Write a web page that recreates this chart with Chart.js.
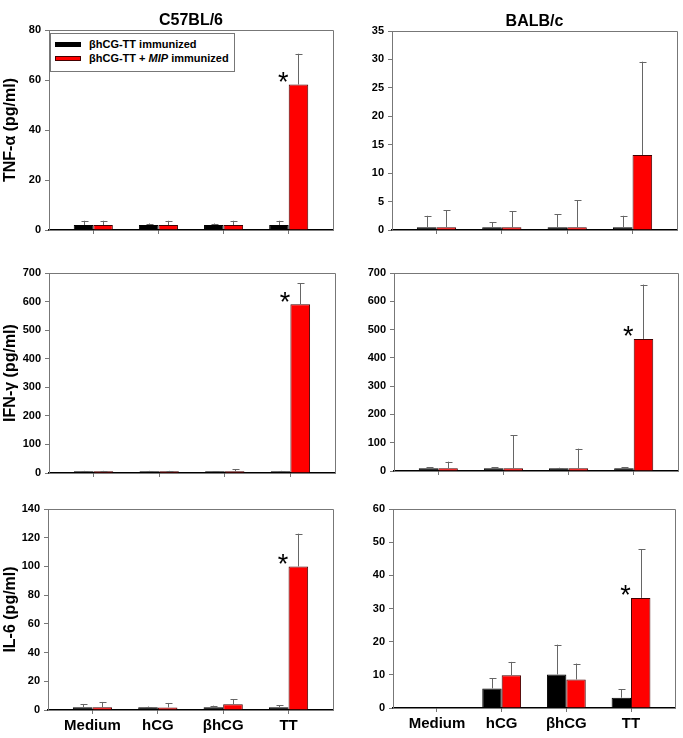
<!DOCTYPE html>
<html><head><meta charset="utf-8">
<script src="https://cdn.jsdelivr.net/npm/chart.js@4"></script>
<style>
html,body{margin:0;padding:0;background:#fff}
body{width:683px;height:738px;position:relative;overflow:hidden;font-family:'Liberation Sans',Arial,sans-serif}
canvas.cv{position:absolute}
#legend{position:absolute;left:50px;top:33px;width:185px;height:39px;border:1px solid #777;box-sizing:border-box;background:#fff;font:bold 11px 'Liberation Sans',Arial,sans-serif;color:#000;z-index:5}
#legend .row{position:absolute;left:0;height:14px;line-height:14px;white-space:nowrap}
#legend .sw{position:absolute;left:4px;top:4.5px;width:26px;height:5px;box-sizing:border-box}
#legend .tx{position:absolute;left:38px;top:0}
</style>
</head><body>
<div id="legend"></div>
<script>
const FONT = "'Liberation Sans', Arial, sans-serif";

// ---- data ----
const categories = ['Medium', 'hCG', 'βhCG', 'TT'];
const seriesNames = ['βhCG-TT immunized', 'βhCG-TT + MIP immunized'];

// TNF-α, C57BL/6
const tnfC57Black    = [2, 2, 2, 2];
const tnfC57BlackErr = [1.7, 0.6, 0.6, 1.7];
const tnfC57Red      = [2, 2, 2, 58.2];
const tnfC57RedErr   = [1.7, 1.7, 1.7, 12.3];
const tnfC57Star     = [false, false, false, true];
// TNF-α, BALB/c
const tnfBalbBlack    = [0.5, 0.5, 0.5, 0.5];
const tnfBalbBlackErr = [2.0, 0.9, 2.3, 2.0];
const tnfBalbRed      = [0.5, 0.5, 0.5, 13.2];
const tnfBalbRedErr   = [3.0, 2.8, 4.7, 16.4];
const tnfBalbStar     = [false, false, false, false];
// IFN-γ, C57BL/6
const ifnC57Black    = [6, 6, 6, 6];
const ifnC57BlackErr = [1.5, 1.5, 1, 1.5];
const ifnC57Red      = [6, 6, 6, 591];
const ifnC57RedErr   = [1.5, 1.5, 8, 74];
const ifnC57Star     = [false, false, false, true];
// IFN-γ, BALB/c
const ifnBalbBlack    = [10, 10, 10, 10];
const ifnBalbBlackErr = [3, 3, 1.5, 3];
const ifnBalbRed      = [10, 10, 10, 467];
const ifnBalbRedErr   = [23, 117, 69, 192];
const ifnBalbStar     = [false, false, false, true];
// IL-6, C57BL/6
const il6C57Black    = [2, 2, 2, 2];
const il6C57BlackErr = [2.2, 0.4, 1.0, 1.3];
const il6C57Red      = [2, 1.8, 4, 100];
const il6C57RedErr   = [3.6, 3.1, 3.5, 22.8];
const il6C57Star     = [false, false, false, true];
// IL-6, BALB/c
const il6BalbBlack    = [null, 5.9, 10.1, 3.1];
const il6BalbBlackErr = [null, 3.0, 9.0, 2.5];
const il6BalbRed      = [null, 9.9, 8.6, 33.2];
const il6BalbRedErr   = [null, 4.0, 4.8, 14.6];
const il6BalbStar     = [false, false, false, true];

// y-axis ranges / ticks
const tnfC57Axis  = [0, 80, 20];
const tnfBalbAxis = [0, 35, 5];
const ifnC57Axis  = [0, 700, 100];
const ifnBalbAxis = [0, 700, 100];
const il6C57Axis  = [0, 140, 20];
const il6BalbAxis = [0, 60, 10];

const strainTitles = ['C57BL/6', 'BALB/c'];
const yTitles = ['TNF-α (pg/ml)', 'IFN-γ (pg/ml)', 'IL-6 (pg/ml)'];

// ---- legend ----
(function(){
  const lg = document.getElementById('legend');
  const cols = [['#000','#000'],['#ff0000','#400']];
  seriesNames.forEach((n,i)=>{
    const r = document.createElement('div'); r.className='row'; r.style.top = (3 + i*14) + 'px';
    const sw = document.createElement('span'); sw.className='sw'; sw.style.background=cols[i][0]; sw.style.border='1px solid '+cols[i][1];
    const tx = document.createElement('span'); tx.className='tx';
    tx.innerHTML = n.replace('MIP','<i>MIP</i>');
    r.appendChild(sw); r.appendChild(tx); lg.appendChild(r);
  });
})();

// ---- plugins ----
const framePlugin = {
  id:'frame',
  afterDraw(chart){
    const {ctx, chartArea:a} = chart;
    ctx.save(); ctx.strokeStyle='#777'; ctx.lineWidth=1;
    ctx.beginPath();
    ctx.moveTo(a.left, Math.round(a.top)+0.5);
    ctx.lineTo(Math.round(a.right)+0.5, Math.round(a.top)+0.5);
    ctx.lineTo(Math.round(a.right)+0.5, a.bottom);
    ctx.stroke(); ctx.restore();
  }
};
const errorPlugin = {
  id:'errbars',
  afterDatasetsDraw(chart){
    const ctx = chart.ctx, ys = chart.scales.y;
    chart.data.datasets.forEach((ds,di)=>{
      const meta = chart.getDatasetMeta(di);
      meta.data.forEach((bar,i)=>{
        const v = ds.data[i].y, e = ds.errors[i];
        if(v==null || e==null) return;
        const yTop = ys.getPixelForValue(v+e);
        const x = Math.round(bar.x)+0.5;
        ctx.save(); ctx.strokeStyle='#666'; ctx.lineWidth=1;
        ctx.beginPath();
        ctx.moveTo(x, bar.y); ctx.lineTo(x, yTop);
        ctx.moveTo(x-3, Math.round(yTop)+0.5); ctx.lineTo(x+4, Math.round(yTop)+0.5);
        ctx.stroke(); ctx.restore();
        if(ds.stars && ds.stars[i]){
          ctx.save(); ctx.fillStyle='#000'; ctx.font = "27px "+FONT;
          ctx.textAlign='center'; ctx.textBaseline='alphabetic';
          ctx.fillText('*', bar.x - bar.width/2 - 5.5, bar.y - 9 + 15.5);
          ctx.restore();
        }
      });
    });
  }
};

// ---- panels ----
const panels = [
  {title:strainTitles[0], yTitle:yTitles[0], black:tnfC57Black, blackErr:tnfC57BlackErr, red:tnfC57Red, redErr:tnfC57RedErr, star:tnfC57Star, axis:tnfC57Axis, xLabels:false, box:[0,0,340,250], area:[49,30,333,230]},
  {title:strainTitles[1], yTitle:null, black:tnfBalbBlack, blackErr:tnfBalbBlackErr, red:tnfBalbRed, redErr:tnfBalbRedErr, star:tnfBalbStar, axis:tnfBalbAxis, xLabels:false, box:[340,0,343,250], area:[392,31,677,230]},
  {title:null, yTitle:yTitles[1], black:ifnC57Black, blackErr:ifnC57BlackErr, red:ifnC57Red, redErr:ifnC57RedErr, star:ifnC57Star, axis:ifnC57Axis, xLabels:false, box:[0,250,340,240], area:[49,273,335,473]},
  {title:null, yTitle:null, black:ifnBalbBlack, blackErr:ifnBalbBlackErr, red:ifnBalbRed, redErr:ifnBalbRedErr, star:ifnBalbStar, axis:ifnBalbAxis, xLabels:false, box:[340,250,343,240], area:[394,273,678,471]},
  {title:null, yTitle:yTitles[2], black:il6C57Black, blackErr:il6C57BlackErr, red:il6C57Red, redErr:il6C57RedErr, star:il6C57Star, axis:il6C57Axis, xLabels:true, box:[0,490,340,248], area:[48,509,333,710]},
  {title:null, yTitle:null, black:il6BalbBlack, blackErr:il6BalbBlackErr, red:il6BalbRed, redErr:il6BalbRedErr, star:il6BalbStar, axis:il6BalbAxis, xLabels:true, box:[340,490,343,248], area:[393,509,675,708]}
];

function makeChart(p){
  const [cx,cy,cw,ch] = p.box; const [L,T,R,B] = p.area;
  const cv = document.createElement('canvas');
  cv.width = cw; cv.height = ch; cv.className='cv';
  cv.style.left = cx+'px'; cv.style.top = cy+'px'; cv.style.width = cw+'px'; cv.style.height = ch+'px';
  document.body.appendChild(cv);
  const titleH = p.title ? 16*1.2 + 1 : 0;
  new Chart(cv, {
    type:'bar',
    data:{datasets:[
      {label:seriesNames[0], data:p.black.map((v,i)=>({x:i,y:v})), errors:p.blackErr,
       backgroundColor:'#000', borderColor:'#000', borderWidth:1, categoryPercentage:0.6, barPercentage:1},
      {label:seriesNames[1], data:p.red.map((v,i)=>({x:i,y:v})), errors:p.redErr, stars:p.star,
       backgroundColor:'#ff0000', borderColor:'#400', borderWidth:1, categoryPercentage:0.6, barPercentage:1}
    ]},
    options:{
      responsive:false, animation:false, devicePixelRatio:1,
      layout:{padding:{top:T-cy-titleH, right:cx+cw-R, bottom:0, left:0}},
      plugins:{
        legend:{display:false}, tooltip:{enabled:false},
        title:{display:!!p.title, text:p.title||'', fullSize:false, padding:{top:1,bottom:0}, color:'#000',
               font:{family:FONT, size:16, weight:'bold', lineHeight:1.2}}
      },
      scales:{
        x:{type:'linear', min:-0.68, max:3.68, offset:false,
           afterBuildTicks:s=>{ s.ticks = categories.map((c,i)=>({value:i})); },
           afterFit:s=>{ s.height = cy+ch-B; },
           grid:{offset:false, drawOnChartArea:false, drawTicks:true, tickLength:4, color:'#777'},
           border:{color:'#000', width:1.5},
           ticks:{display:p.xLabels, callback:v=>categories[v], color:'#000', padding:3, autoSkip:false, maxRotation:0,
                  font:{family:FONT, size:15, weight:'bold'}}},
        y:{min:p.axis[0], max:p.axis[1],
           afterFit:s=>{ s.width = L-cx; },
           ticks:{stepSize:p.axis[2], color:'#000', padding:4, font:{family:FONT, size:11, weight:'bold'}},
           grid:{drawOnChartArea:false, drawTicks:true, tickLength:4, color:'#777'},
           border:{color:'#777', width:1},
           title:{display:!!p.yTitle, text:p.yTitle||'', color:'#000', padding:{top:1,bottom:0},
                  font:{family:FONT, size:16, weight:'bold', lineHeight:1.2}}}
      }
    },
    plugins:[framePlugin, errorPlugin]
  });
}
panels.forEach(makeChart);
</script>
</body></html>
